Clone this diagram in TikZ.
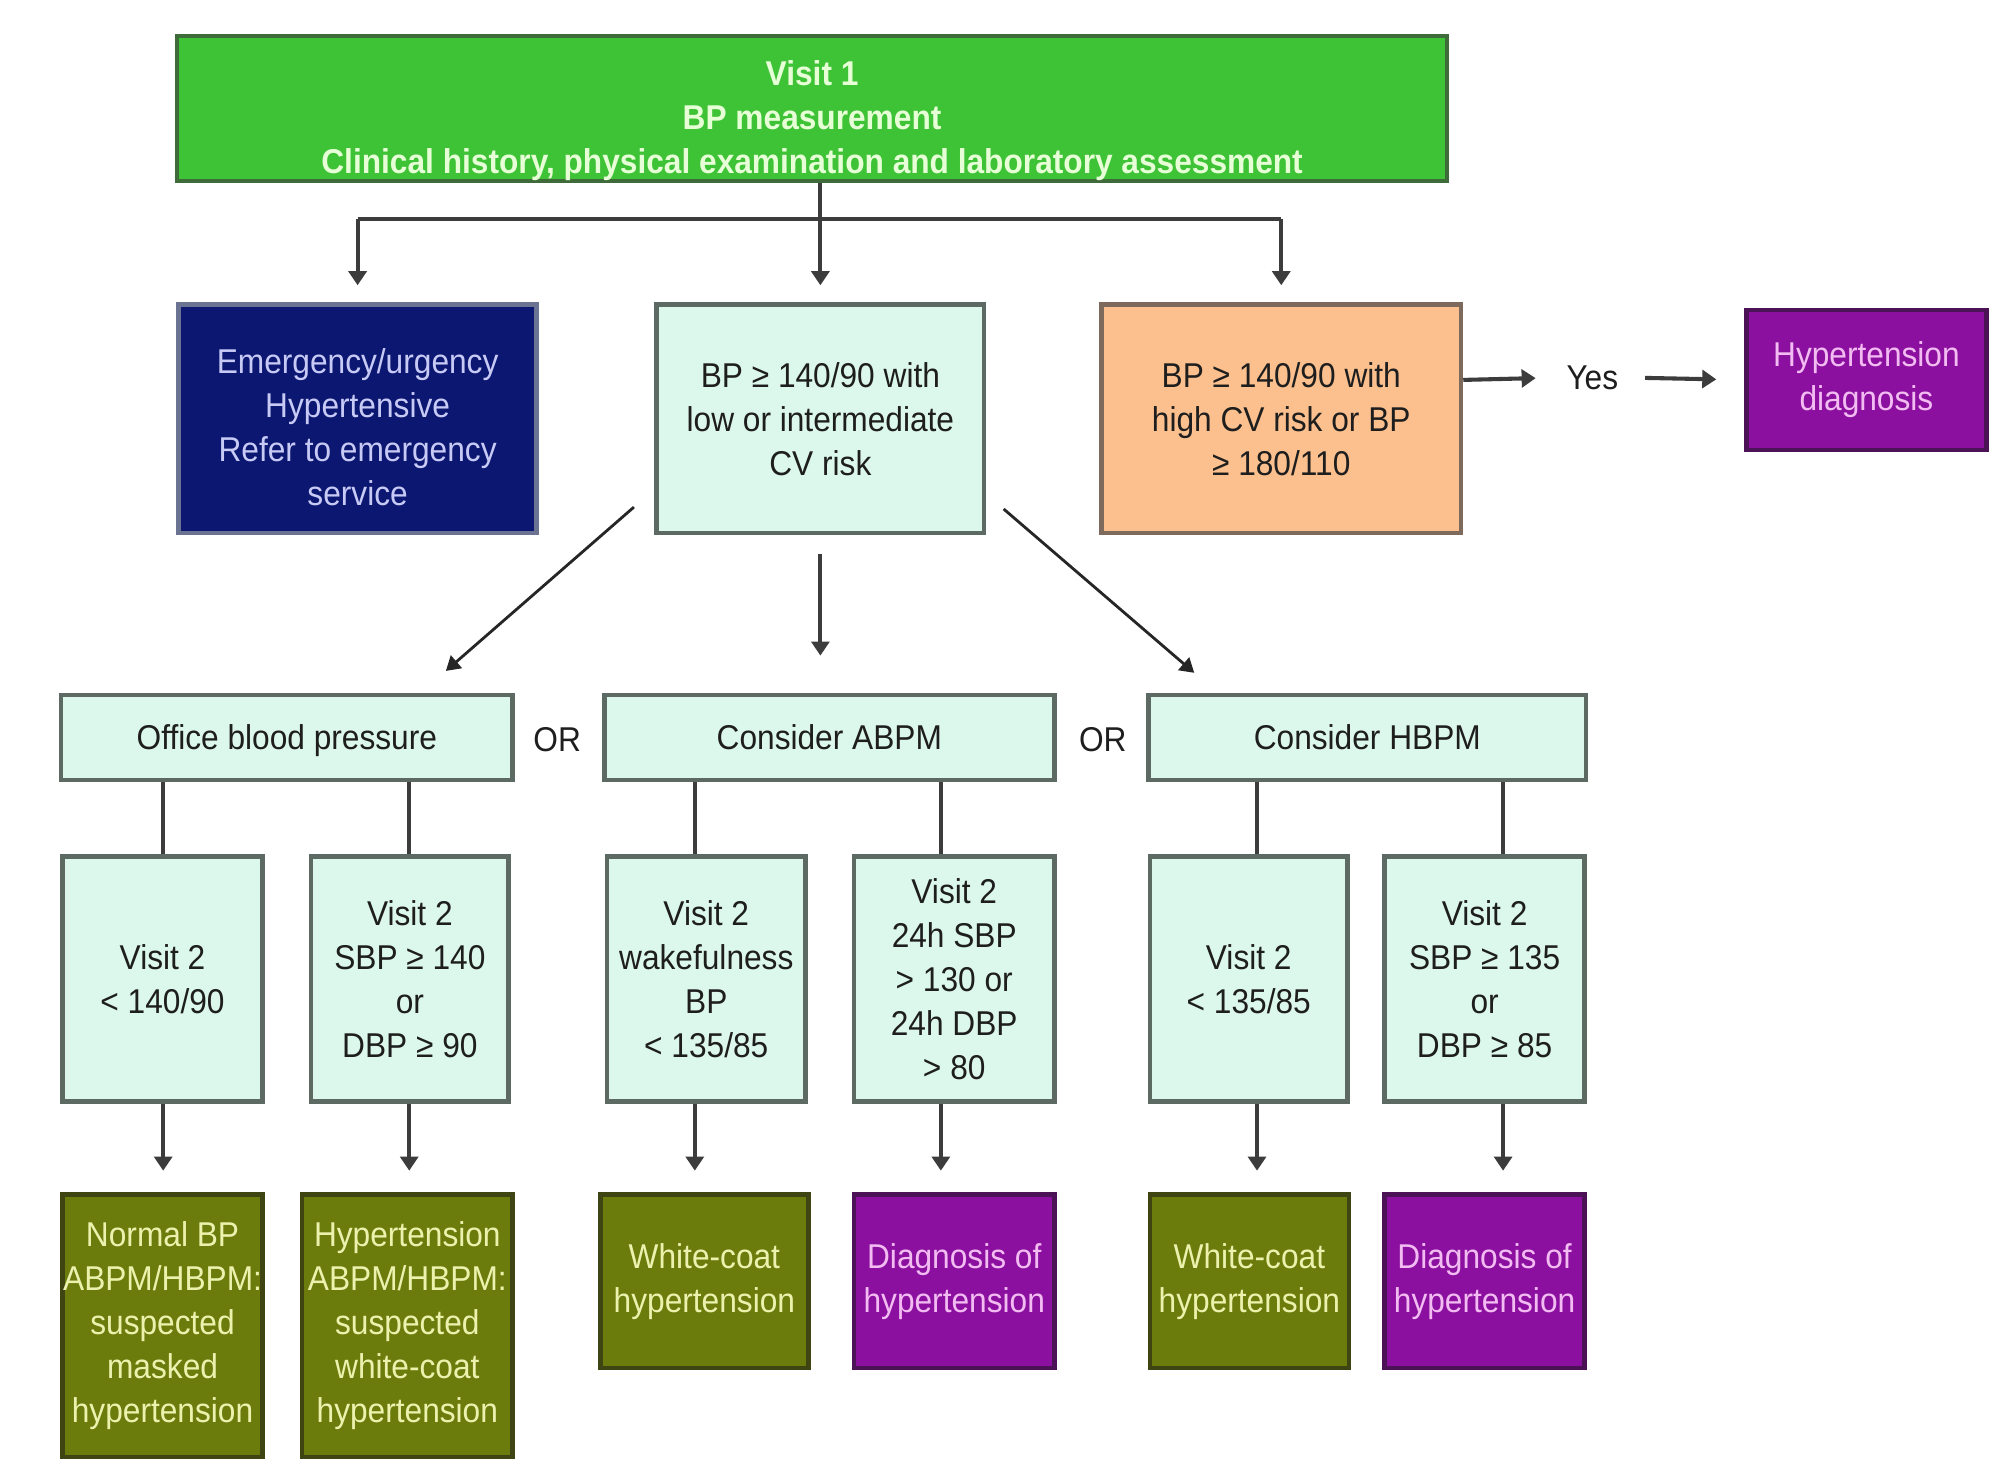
\documentclass[tikz,border=0pt]{standalone}
\usepackage{fontspec}
\setmainfont[FakeStretch=0.92]{Liberation Sans}
\usetikzlibrary{arrows.meta,calc}
\definecolor{vgreen}{HTML}{3EC236}
\definecolor{vgreenb}{HTML}{3F6B3A}
\definecolor{vgreent}{HTML}{E6FFD6}
\definecolor{navy}{HTML}{0B1770}
\definecolor{navyb}{HTML}{6B7392}
\definecolor{navyt}{HTML}{C8CAF6}
\definecolor{mint}{HTML}{DCF7EC}
\definecolor{mintb}{HTML}{5D6A64}
\definecolor{peach}{HTML}{FBC08E}
\definecolor{peachb}{HTML}{7E6A5C}
\definecolor{purp}{HTML}{8C10A0}
\definecolor{purpb}{HTML}{4B1255}
\definecolor{purpt}{HTML}{F2BCF2}
\definecolor{olive}{HTML}{6C7C0C}
\definecolor{oliveb}{HTML}{3E4512}
\definecolor{olivet}{HTML}{ECF2AE}
\definecolor{ink}{HTML}{1E1E1E}
\definecolor{linec}{HTML}{3C3C3C}
\begin{document}
\begin{tikzpicture}[x=1pt,y=-1pt,
  box/.style={draw, line width=3.5pt, inner sep=0pt, align=center,
    font=\fontsize{27}{34.5}\selectfont},
  mintbox/.style={box, fill=mint, draw=mintb, text=ink},
  rowthree/.style={mintbox, minimum height=67pt, text height=19.5pt, text depth=0pt},
  olivebox/.style={box, fill=olive, draw=oliveb, text=olivet},
  purpbox/.style={box, fill=purp, draw=purpb, text=purpt},
  plain/.style={inner sep=0pt, text=ink, font=\fontsize{27}{34.5}\selectfont},
  conn/.style={draw=linec, line width=3.2pt},
  arr/.style={conn, -{Triangle[width=14pt,length=11pt]}, shorten >=13.5pt},
  darr/.style={draw=black!85, line width=2.2pt, -{Triangle[width=13pt,length=11pt]}}
]
\fill[white] (0,0) rectangle (1568,1148);
\useasboundingbox (0,0) rectangle (1568,1148);

% top
\node[box, fill=vgreen, draw=vgreenb, text=vgreent, font=\fontsize{27}{34.5}\selectfont\bfseries,
  minimum width=996pt, minimum height=112pt] (green) at (637,85)
  {\rule{0pt}{39pt}Visit 1\\BP measurement\\Clinical history, physical examination and laboratory assessment};

% row 2
\node[box, fill=navy, draw=navyb, text=navyt, minimum width=281pt, minimum height=179pt]
  (blue) at (280.5,328.5) {\rule{0pt}{33pt}Emergency/urgency\\Hypertensive\\Refer to emergency\\service};
\node[mintbox, minimum width=257pt, minimum height=179pt]
  (risk) at (643.5,328.5) {BP ≥ 140/90 with\\low or intermediate\\CV risk};
\node[box, fill=peach, draw=peachb, text=ink, minimum width=282pt, minimum height=179pt]
  (orange) at (1005,328.5) {BP ≥ 140/90 with\\high CV risk or BP\\≥ 180/110};
\node[plain] (yes) at (1249,296) {Yes};
\node[purpbox, minimum width=188pt, minimum height=110pt]
  (hdx) at (1464,298) {Hypertension\\diagnosis};

% row 3
\node[rowthree, minimum width=354pt] (office) at (225,578.5) {Office blood pressure};
\node[plain] (or1) at (437,580) {OR};
\node[rowthree, minimum width=353pt] (abpm) at (650.5,578.5) {Consider ABPM};
\node[plain] (or2) at (865,580) {OR};
\node[rowthree, minimum width=343pt] (hbpm) at (1072.5,578.5) {Consider HBPM};

% row 4
\node[mintbox, minimum width=157pt, minimum height=192pt] (a1) at (127.5,768) {Visit 2\\< 140/90};
\node[mintbox, minimum width=155pt, minimum height=192pt] (a2) at (321.5,768) {Visit 2\\SBP ≥ 140\\or\\DBP ≥ 90};
\node[mintbox, minimum width=156pt, minimum height=192pt] (b1) at (554,768) {Visit 2\\wakefulness\\BP\\< 135/85};
\node[mintbox, minimum width=157pt, minimum height=192pt] (b2) at (748.5,768) {Visit 2\\24h SBP\\> 130 or\\24h DBP\\> 80};
\node[mintbox, minimum width=155pt, minimum height=192pt] (c1) at (979.5,768) {Visit 2\\< 135/85};
\node[mintbox, minimum width=157pt, minimum height=192pt] (c2) at (1164.5,768) {Visit 2\\SBP ≥ 135\\or\\DBP ≥ 85};

% row 5
\node[olivebox, minimum width=157pt, minimum height=206pt] (d1) at (127.5,1040)
  {Normal BP\\ABPM/HBPM:\\suspected\\masked\\hypertension};
\node[olivebox, minimum width=165pt, minimum height=206pt] (d2) at (319.5,1040)
  {Hypertension\\ABPM/HBPM:\\suspected\\white-coat\\hypertension};
\node[olivebox, minimum width=163pt, minimum height=136pt] (d3) at (552.5,1005) {White-coat\\hypertension};
\node[purpbox, minimum width=157pt, minimum height=136pt] (d4) at (748.5,1005) {Diagnosis of\\hypertension};
\node[olivebox, minimum width=156pt, minimum height=136pt] (d5) at (980,1005) {White-coat\\hypertension};
\node[purpbox, minimum width=157pt, minimum height=136pt] (d6) at (1164.5,1005) {Diagnosis of\\hypertension};

% top connectors
\coordinate (bus) at (0,172);
\draw[conn] (bus -| blue.north) -- (bus -| orange.north);
\draw[arr] (bus -| blue.north) -- (blue.north);
\draw[arr] (bus -| orange.north) -- (orange.north);
\draw[arr] (green.south -| risk.north) -- (risk.north);

% yes
\draw[arr, shorten >=24pt] (orange.east |- hdx.west) -- (yes.west);
\draw[arr, shorten <=21pt, shorten >=22pt] (yes.east) -- (hdx.west);

% diagonals
\draw[darr] ($(risk.south west)+(-16,-22)$) -- ($(office.north east)+(-54,-17)$);
\draw[arr, shorten <=14.5pt, shorten >=29pt] (risk.south) -- (risk.south |- abpm.north);
\draw[darr] ($(risk.south east)+(13.5,-20.5)$) -- ($(hbpm.north west)+(37.5,-15.5)$);

% row 3 -> row 4 -> row 5
\coordinate (xa1) at (128,0);
\coordinate (xa2) at (321,0);
\coordinate (xb1) at (545,0);
\coordinate (xb2) at (738,0);
\coordinate (xc1) at (986,0);
\coordinate (xc2) at (1179,0);
\draw[conn] (office.south -| xa1) -- (a1.north -| xa1);
\draw[conn] (office.south -| xa2) -- (a2.north -| xa2);
\draw[conn] (abpm.south -| xb1) -- (b1.north -| xb1);
\draw[conn] (abpm.south -| xb2) -- (b2.north -| xb2);
\draw[conn] (hbpm.south -| xc1) -- (c1.north -| xc1);
\draw[conn] (hbpm.south -| xc2) -- (c2.north -| xc2);
\draw[arr, shorten >=17pt] (a1.south -| xa1) -- (d1.north -| xa1);
\draw[arr, shorten >=17pt] (a2.south -| xa2) -- (d2.north -| xa2);
\draw[arr, shorten >=17pt] (b1.south -| xb1) -- (d3.north -| xb1);
\draw[arr, shorten >=17pt] (b2.south -| xb2) -- (d4.north -| xb2);
\draw[arr, shorten >=17pt] (c1.south -| xc1) -- (d5.north -| xc1);
\draw[arr, shorten >=17pt] (c2.south -| xc2) -- (d6.north -| xc2);
\end{tikzpicture}
\end{document}
